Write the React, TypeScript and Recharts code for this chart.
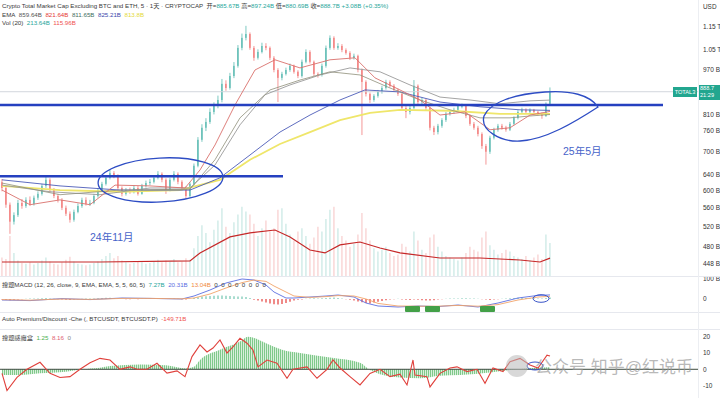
import { Area, Bar, Cell, ComposedChart, Line, ReferenceLine, XAxis, YAxis } from "recharts";

// candles are daily, index 0..137, the x axis leaves empty space to the right like TradingView
const X_DOMAIN: [number, number] = [-0.5, 174];
const FONT = '"Liberation Sans", Arial, "Noto Sans CJK SC", sans-serif';
const UP = "#26a69a";
const DOWN = "#ef5350";

const FIRST_OPEN = 620;
const closes = [
  606, 567, 530, 544, 571, 564, 578, 569, 583, 592, 611, 626, 601, 587, 578, 560, 547, 534, 551, 564,
  578, 569, 571, 587, 601, 616, 631, 643, 636, 606, 592, 601, 597, 606, 592, 611, 618, 621, 631, 641,
  626, 601, 626, 641, 621, 606, 587, 616, 662, 734, 770, 788, 820, 840, 860, 917, 902, 946, 985, 1058,
  1101, 1118, 1058, 1017, 1041, 1066, 1058, 1017, 969, 939, 954, 969, 985, 962, 946, 1001, 1041, 1001, 954, 950,
  985, 1058, 1101, 1058, 1066, 1049, 1037, 1017, 1025, 969, 924, 881, 860, 874, 888, 902, 924, 910, 895, 881,
  833, 820, 833, 910, 853, 860, 833, 770, 757, 776, 794, 814, 820, 827, 840, 840, 807, 782, 770, 751,
  716, 700, 740, 764, 776, 770, 764, 782, 801, 820, 827, 820, 827, 820, 814, 807, 847, 888.7,
];
const highs = [
  628, 612, 572, 550, 578, 580, 584, 586, 588, 598, 616, 634, 630, 606, 592, 582, 565, 552, 556, 570,
  583, 584, 578, 592, 606, 621, 637, 652, 648, 640, 610, 606, 607, 612, 611, 616, 624, 628, 636, 648,
  645, 630, 631, 648, 645, 625, 610, 620, 668, 742, 781, 800, 832, 852, 875, 935, 930, 958, 1000, 1070,
  1120, 1155, 1125, 1066, 1052, 1080, 1078, 1064, 1024, 976, 962, 978, 994, 990, 968, 1010, 1052, 1048, 1006, 960,
  994, 1068, 1112, 1108, 1078, 1074, 1056, 1044, 1034, 1030, 975, 930, 886, 880, 895, 910, 932, 930, 916, 900,
  886, 840, 840, 931, 915, 868, 864, 838, 776, 782, 800, 820, 826, 834, 846, 848, 844, 812, 788, 776,
  756, 722, 746, 770, 782, 782, 776, 788, 806, 826, 834, 832, 832, 830, 824, 818, 852, 904,
];
const lows = [
  598, 560, 505, 524, 540, 558, 560, 564, 565, 578, 588, 606, 596, 582, 572, 555, 542, 528, 530, 548,
  560, 565, 564, 568, 583, 597, 612, 627, 630, 600, 586, 588, 592, 593, 588, 590, 607, 613, 617, 627,
  620, 592, 598, 622, 615, 600, 580, 584, 612, 658, 728, 760, 782, 812, 832, 852, 892, 896, 938, 978,
  1048, 1090, 1050, 1005, 1010, 1035, 1048, 1008, 960, 853, 930, 948, 962, 955, 938, 940, 995, 994, 946, 940,
  944, 978, 1050, 1050, 1050, 1040, 1030, 1008, 1010, 960, 748, 872, 850, 854, 868, 882, 896, 904, 888, 874,
  824, 800, 812, 828, 845, 846, 826, 762, 748, 750, 770, 788, 808, 814, 820, 832, 800, 776, 764, 744,
  708, 665, 694, 735, 758, 764, 758, 760, 778, 796, 814, 814, 815, 812, 808, 798, 804, 843,
];
const volumes = [
  120, 110, 260, 150, 100, 85, 80, 90, 75, 85, 100, 120, 95, 80, 75, 90, 105, 125, 95, 80,
  75, 70, 75, 85, 95, 110, 130, 150, 115, 130, 100, 90, 80, 85, 95, 90, 80, 85, 95, 105,
  90, 100, 95, 110, 90, 95, 115, 105, 180, 260, 330, 280, 220, 300, 360, 440, 320, 280, 350, 400,
  450, 420, 400, 340, 260, 310, 360, 290, 310, 430, 440, 340, 270, 230, 290, 310, 260, 210, 250, 320,
  290, 370, 430, 450, 310, 260, 230, 190, 210, 270, 410, 310, 230, 180, 160, 170, 190, 150, 130, 140,
  210, 190, 160, 290, 230, 170, 150, 250, 270, 190, 160, 130, 120, 110, 100, 120, 150, 190, 170, 160,
  250, 290, 200, 170, 140, 150, 170, 160, 130, 120, 110, 130, 100, 120, 140, 110, 270, 214,
];
const macdHist = [
  -3, -5, -6, -4, -2, -1, 1, 2, 2, 3, 4, 5, 3, 1, -1, -3, -4, -5, -3, -1,
  1, 2, 2, 3, 4, 5, 6, 6, 4, 2, 0, -1, -1, 0, -1, 1, 2, 2, 3, 4,
  2, 0, 1, 2, 1, -1, -2, 1, 5, 9, 12, 14, 15, 16, 17, 18, 16, 15, 14, 13,
  12, 10, 5, -4, -8, -12, -18, -22, -26, -28, -25, -20, -14, -8, -4, -2, 1, 3, 4, 3,
  4, 5, 6, 7, 5, 2, -1, -4, -8, -12, -16, -20, -22, -18, -14, -10, -6, -3, -1, 1,
  -2, -4, -5, -3, -4, -6, -7, -8, -6, -3, -1, 1, 2, 3, 3, 4, 4, 3, 2, 1,
  -1, -3, -5, -3, -1, 1, 3, 4, 5, 6, 6, 5, 4, 4, 3, 3, 5, 7,
];

// moving averages read at a few places along the chart: [candle index, value in B]
const emaGray = [[0, 613], [12, 597], [24.5, 590], [37, 606], [47, 606], [53.25, 664], [59.5, 779], [65.75, 878], [72, 913], [79.5, 950], [87, 977], [94.5, 962], [102, 913], [109.5, 870], [117, 860], [124.5, 847], [132, 857], [137, 859.64]];
const emaRed = [[0, 601], [7, 567], [14.5, 578], [22, 567], [28.25, 613], [37, 611], [45.75, 606], [49.5, 651], [53.25, 719], [58.25, 843], [63.25, 969], [68.25, 1009], [74.5, 977], [82, 1009], [88.25, 1017], [93.25, 939], [99.5, 895], [104.5, 860], [109.5, 810], [115.75, 820], [122, 764], [127, 770], [132, 810], [137, 821.64]];
const emaGreen = [[0, 618], [14.5, 590], [29.5, 601], [47, 603], [53.25, 678], [59.5, 801], [67, 895], [74.5, 931], [82, 962], [89.5, 950], [97, 902], [104.5, 860], [112, 827], [119.5, 801], [127, 801], [132, 807], [137, 811.65]];
const emaBlue = [[0, 626], [14.5, 611], [29.5, 601], [47, 601], [54.5, 631], [62, 691], [69.5, 757], [77, 810], [84.5, 860], [90.75, 895], [99.5, 888], [109.5, 853], [119.5, 837], [129.5, 827], [137, 825.21]];
const emaYellow = [[0, 611], [14.5, 601], [29.5, 597], [44.5, 601], [54.5, 626], [62, 678], [69.5, 722], [77, 757], [84.5, 794], [92, 817], [99.5, 827], [112, 824], [124.5, 814], [137, 813.8]];
const volMa = [[0, 91], [24.5, 91], [47, 98], [49.5, 150], [57, 254], [62, 280], [68.25, 299], [72, 254], [77, 169], [80.75, 150], [84.5, 202], [89.5, 221], [94.5, 182], [99.5, 150], [109.5, 117], [119.5, 117], [129.5, 104], [134.5, 91], [137, 116]];

const macdLine = [[0, -5], [7, -8], [15, 2], [22, -3], [30, 5], [37, 3], [45, 0], [48, 15], [52, 45], [56, 80], [60, 100], [63, 95], [66, 70], [68, 35], [71, 5], [73, 5], [77, 10], [81, 15], [84, 20], [88, 10], [91, -20], [94, -35], [99, -40], [104, -35], [109, -38], [114, -30], [119, -40], [124, -20], [129, 5], [134, 18], [137, 20.31]];
const signalLine = [[0, -3], [7, -6], [15, 0], [22, -2], [30, 3], [37, 3], [45, 1], [48, 5], [52, 25], [56, 55], [60, 82], [63, 95], [66, 88], [68, 65], [71, 35], [73, 15], [77, 8], [81, 12], [84, 17], [88, 15], [91, 0], [94, -22], [99, -35], [104, -36], [109, -36], [114, -32], [119, -36], [124, -28], [129, -5], [134, 10], [137, 13.04]];

const oscHist = [[0, -3.5], [4.5, -3.5], [9.5, -2.5], [16, -1.5], [20, 0], [24.5, 1], [27, 2], [34.5, 3], [41, 2.5], [46, 0.5], [48, 1.5], [49.5, 5.7], [54.5, 12], [59.5, 17], [61.5, 20], [66, 16], [70, 12], [74.5, 10], [82.5, 7], [89.5, 4], [92, -0.5], [94.5, -3], [99.5, -5], [104.5, -5.5], [109.5, -4], [114.5, -3.5], [122, -2], [127, -0.5], [132.5, 0.8], [137, 1.25]];
const oscLine = [[0, -2.5], [1.25, -13], [3.75, -5], [6.25, 0], [9.5, 4.3], [12, -2.5], [14.5, -5], [17, -4.5], [19.5, 0], [22, 4], [24.5, 6.7], [27, 5.7], [29.5, 0], [32, 1.5], [33.75, 0], [36.25, 0], [38.75, 3.7], [41.25, -2.3], [43.75, -1], [45.75, -4.5], [47.5, 7.8], [49.5, 15], [51.25, 10.6], [52.75, 13], [54.5, 18], [56.25, 10], [57.75, 13.7], [59.5, 19], [61.25, 16], [62.75, 11.8], [64, 1.5], [66.25, 5.7], [68.75, 3.7], [71.25, -5.5], [72.75, 0], [76.25, 1.5], [78.75, -5.5], [81.25, 0], [82.75, 5.7], [84.5, 0.8], [87, -4.5], [89.5, -9.6], [92, -2.5], [94.5, 0], [97, -4.5], [99.5, -3], [101.25, -9.6], [102.75, 5.7], [103.25, -3.5], [106.25, -4.5], [107, -10.8], [109.5, -2.5], [112, 0.8], [113.75, 1.5], [116.25, -1.4], [118.75, 0], [120.75, -8.6], [122.75, 0.8], [125.25, -1.4], [127, 4.6], [129.5, 6.7], [132, 2.6], [134, 0.8], [136.25, 8.7], [137, 8.16]];

const priceTicks = [448, 480, 520, 560, 600, 640, 700, 760, 810, 970, 1050, 1150];
const macdTicks = [0, 100];
const oscTicks = [-10, 0, 10, 20];
const levelLines = [
  { value: 843, from: -0.5, to: 165.25 },
  { value: 635, from: -0.5, to: 70.25 },
];

const candles = closes.map((close, i) => ({
  x: i,
  open: i === 0 ? FIRST_OPEN : closes[i - 1],
  close,
  high: highs[i],
  low: lows[i],
  vol: volumes[i],
  hist: macdHist[i],
}));

const pts = (arr: number[][]) => arr.map(([x, v]) => ({ x, v }));

function Candle(props: any) {
  const { x, y, width, height, payload } = props;
  if (!payload || height == null || isNaN(y)) return null;
  const { open, close, high, low } = payload;
  const top = Math.min(y, y + height);
  const h = Math.abs(height);
  const lh = Math.log(high);
  const ll = Math.log(low);
  const py = (v: number) => top + ((lh - Math.log(v)) / (lh - ll)) * h;
  const color = close >= open ? UP : DOWN;
  const cx = x + width / 2;
  const bTop = py(Math.max(open, close));
  const bBot = py(Math.min(open, close));
  return (
    <g>
      <line x1={cx} x2={cx} y1={top} y2={top + h} stroke={color} strokeOpacity={0.75} strokeWidth={0.8} />
      <rect x={x} y={bTop} width={width} height={Math.max(0.8, bBot - bTop)} fill={color} />
    </g>
  );
}

const fmtPrice = (v: number) => (v >= 1000 ? `${(v / 1000).toFixed(2)} T` : `${v} B`);

// plain svg text so recharts doesn't wrap "970 B" into two lines
const rightTick = (fmt: (v: number) => string) => (props: any) => (
  <text x={props.x} y={props.y} dy={2.3} fontSize={6.5} fill="#333" fontFamily={FONT}>
    {fmt(props.payload.value)}
  </text>
);

const lineProps = { dataKey: "v", dot: false, isAnimationActive: false, activeDot: false as const };
const axisProps = { orientation: "right" as const, width: 22, allowDataOverflow: true, interval: 0, tickLine: false, axisLine: false, tickSize: 0, tickMargin: 5 };

function Header() {
  const g = { color: UP };
  return (
    <div style={{ position: "absolute", left: 2, top: 2, fontSize: 6.2, lineHeight: "8.6px", color: "#3a3a3a", whiteSpace: "nowrap" }}>
      <div>
        Crypto Total Market Cap Excluding BTC and ETH, 5 · 1天 · CRYPTOCAP&nbsp;&nbsp;开=<span style={g}>885.67B</span>&nbsp;高=<span style={g}>897.24B</span>&nbsp;低=<span style={g}>880.69B</span>&nbsp;收=<span style={g}>888.7B</span>&nbsp;<span style={g}>+3.08B (+0.35%)</span>
      </div>
      <div>
        EMA&nbsp;&nbsp;<span style={{ color: "#555" }}>859.64B</span>&nbsp;&nbsp;<span style={{ color: "#e53935" }}>821.64B</span>&nbsp;&nbsp;<span style={{ color: "#3f6e5e" }}>811.65B</span>&nbsp;&nbsp;<span style={{ color: "#3949ab" }}>825.21B</span>&nbsp;&nbsp;<span style={{ color: "#e3d93c" }}>813.8B</span>
      </div>
      <div>
        Vol (20)&nbsp;&nbsp;<span style={g}>213.64B</span>&nbsp;&nbsp;<span style={{ color: DOWN }}>115.96B</span>
      </div>
    </div>
  );
}

export default function App() {
  return (
    <div style={{ position: "absolute", left: 0, top: 0, width: 720, height: 398, background: "#fff", overflow: "hidden", fontFamily: FONT }}>
      {/* volume, behind the candles */}
      <div style={{ position: "absolute", left: 0, top: 0 }}>
        <ComposedChart width={720} height={276} data={candles} margin={{ top: 0, right: 22, bottom: 0, left: 0 }}>
          <XAxis dataKey="x" type="number" domain={X_DOMAIN} allowDataOverflow hide />
          <YAxis domain={[0, 1794]} allowDataOverflow hide />
          <Bar dataKey="vol" barSize={3} isAnimationActive={false}>
            {candles.map((c, i) => (
              <Cell key={i} fill={c.close >= c.open ? "#b4dfd9" : "#f6bcbb"} />
            ))}
          </Bar>
          <Line data={pts(volMa)} {...lineProps} stroke="#c62828" strokeWidth={1.2} />
        </ComposedChart>
      </div>

      {/* price */}
      <div style={{ position: "absolute", left: 0, top: 0 }}>
        <ComposedChart width={720} height={276} data={candles} margin={{ top: 0, right: 0, bottom: 0, left: 0 }}>
          <XAxis dataKey="x" type="number" domain={X_DOMAIN} allowDataOverflow hide />
          <YAxis {...axisProps} scale="log" domain={[427, 1280]} ticks={priceTicks} tick={rightTick(fmtPrice)} />
          <ReferenceLine y={888.7} stroke="#d3d6dd" strokeWidth={1} />
          <Line data={pts(emaYellow)} {...lineProps} stroke="#efe66a" strokeWidth={1.8} />
          <Line data={pts(emaBlue)} {...lineProps} stroke="#4c5bb8" strokeWidth={0.9} />
          <Line data={pts(emaGray)} {...lineProps} stroke="#9a9a9a" strokeWidth={0.9} />
          <Line data={pts(emaGreen)} {...lineProps} stroke="#8f8f7a" strokeWidth={0.8} />
          <Line data={pts(emaRed)} {...lineProps} stroke="#d9706c" strokeWidth={0.9} />
          <Bar dataKey={(d: any) => [d.low, d.high]} barSize={2.6} shape={Candle} isAnimationActive={false} />
          {levelLines.map((l) => (
            <ReferenceLine
              key={l.value}
              segment={[{ x: l.from, y: l.value }, { x: l.to, y: l.value }]}
              stroke="#2540c0"
              strokeWidth={2.4}
            />
          ))}
        </ComposedChart>
      </div>

      {/* MACD */}
      <div style={{ position: "absolute", left: 0, top: 272 }}>
        <ComposedChart width={720} height={40} data={candles} margin={{ top: 0, right: 0, bottom: 0, left: 0 }}>
          <XAxis dataKey="x" type="number" domain={X_DOMAIN} allowDataOverflow hide />
          <YAxis {...axisProps} domain={[-65, 135]} ticks={macdTicks} tick={rightTick((v) => (v === 100 ? "100 B" : "0"))} />
          <Bar dataKey="hist" barSize={2} isAnimationActive={false}>
            {candles.map((c, i) => (
              <Cell key={i} fill={c.hist >= 0 ? "#a9dccf" : "#ef8a88"} />
            ))}
          </Bar>
          <Line data={pts(macdLine)} {...lineProps} stroke="#5b6ee1" strokeWidth={0.9} />
          <Line data={pts(signalLine)} {...lineProps} stroke="#f2a46a" strokeWidth={0.9} />
        </ComposedChart>
      </div>

      {/* oscillator */}
      <div style={{ position: "absolute", left: 0, top: 329 }}>
        <ComposedChart width={720} height={69} data={candles} margin={{ top: 0, right: 0, bottom: 0, left: 0 }}>
          <defs>
            <pattern id="stripes" width="2" height="4" patternUnits="userSpaceOnUse">
              <rect x="0" y="0" width="1.3" height="4" fill="#7fc98a" />
            </pattern>
          </defs>
          <XAxis dataKey="x" type="number" domain={X_DOMAIN} allowDataOverflow hide />
          <YAxis {...axisProps} domain={[-17.6, 24.7]} ticks={oscTicks} tick={rightTick((v) => String(v))} />
          <Area data={pts(oscHist)} dataKey="v" baseValue={0} type="monotone" stroke="none" fill="url(#stripes)" fillOpacity={1} isAnimationActive={false} activeDot={false} />
          <ReferenceLine y={0} stroke="#3c4a3f" strokeWidth={1} />
          <Line data={pts(oscLine)} {...lineProps} stroke="#e0413c" strokeWidth={1.1} />
        </ComposedChart>
      </div>

      {/* panel borders */}
      {[276, 312, 329].map((y) => (
        <div key={y} style={{ position: "absolute", left: 0, top: y, width: 720, height: 1, background: "#e6e8ee" }} />
      ))}
      <div style={{ position: "absolute", left: 698, top: 0, width: 1, height: 398, background: "#eceef2" }} />

      <Header />
      <div style={{ position: "absolute", left: 703, top: 3, fontSize: 6.4, color: "#333" }}>USD</div>

      {/* last price tags */}
      <div style={{ position: "absolute", left: 673, top: 87, width: 24, height: 10, background: "#22a68f", color: "#fff", fontSize: 5.6, lineHeight: "10px", textAlign: "center" }}>TOTAL3</div>
      <div style={{ position: "absolute", left: 699, top: 85, width: 21, height: 15, background: "#22a68f", color: "#fff", fontSize: 5.6, lineHeight: "7px", paddingLeft: 1 }}>
        888.7
        <br />
        21:29
      </div>

      {/* MACD titles and premium panel title */}
      <div style={{ position: "absolute", left: 2, top: 280, fontSize: 6.2, color: "#3a3a3a", whiteSpace: "nowrap" }}>
        搜题MACD (12, 26, close, 9, EMA, EMA, 5, 5, 60, 5)&nbsp;&nbsp;<span style={{ color: UP }}>7.27B</span>&nbsp;&nbsp;<span style={{ color: "#5b6ee1" }}>20.31B</span>&nbsp;&nbsp;<span style={{ color: "#f08a3c" }}>13.04B</span>&nbsp;&nbsp;0&nbsp;&nbsp;0&nbsp;&nbsp;0&nbsp;&nbsp;0&nbsp;&nbsp;0&nbsp;&nbsp;0&nbsp;&nbsp;0&nbsp;&nbsp;0
      </div>
      <div style={{ position: "absolute", left: 2, top: 315, fontSize: 6.2, color: "#3a3a3a", whiteSpace: "nowrap" }}>
        Auto Premium/Discount -Che (, BTCUSDT, BTCUSDT.P)&nbsp;&nbsp;<span style={{ color: DOWN }}>-149.71B</span>
      </div>
      <div style={{ position: "absolute", left: 2, top: 333, fontSize: 6.2, color: "#3a3a3a", whiteSpace: "nowrap" }}>
        搜题感魔盒&nbsp;&nbsp;<span style={{ color: "#4caf50" }}>1.25</span>&nbsp;&nbsp;<span style={{ color: "#e06070" }}>8.16</span>&nbsp;&nbsp;<span style={{ color: "#888" }}>0</span>
      </div>

      {/* divergence labels in the MACD panel */}
      {[405, 425, 480].map((x) => (
        <div key={x} style={{ position: "absolute", left: x, top: 306, width: 15, height: 6, background: "#43a047", borderRadius: 1 }} />
      ))}

      {/* hand-drawn marks */}
      <svg width={720} height={398} style={{ position: "absolute", left: 0, top: 0, pointerEvents: "none" }}>
        <ellipse cx={160.5} cy={180} rx={62.5} ry={22} transform="rotate(-3 160.5 180)" fill="none" stroke="#2d4cc4" strokeWidth={1.3} />
        <path d="M 598 107 C 590 95, 570 90, 545 92 C 515 94, 490 102, 484 116 C 480 130, 500 142, 520 141 C 545 140, 575 122, 598 107 Z" fill="none" stroke="#2d4cc4" strokeWidth={1.3} />
        <ellipse cx={541} cy={298.5} rx={8} ry={3.8} fill="none" stroke="#3a55c8" strokeWidth={1} />
        <ellipse cx={535} cy={366} rx={8} ry={4} fill="none" stroke="#3a55c8" strokeWidth={1} />
        <text x={90} y={241} fontSize={10.5} fill="#4763c9" fontFamily={FONT}>24年11月</text>
        <text x={563} y={155} fontSize={10.5} fill="#4763c9" fontFamily={FONT}>25年5月</text>
        <circle cx={517} cy={366} r={11} fill="#b8b8b8" fillOpacity={0.55} />
        <text x={535} y={373} fontSize={17} fill="#9a9a9a" fillOpacity={0.7} fontFamily={FONT}>公众号 知乎@红说币</text>
      </svg>
    </div>
  );
}
